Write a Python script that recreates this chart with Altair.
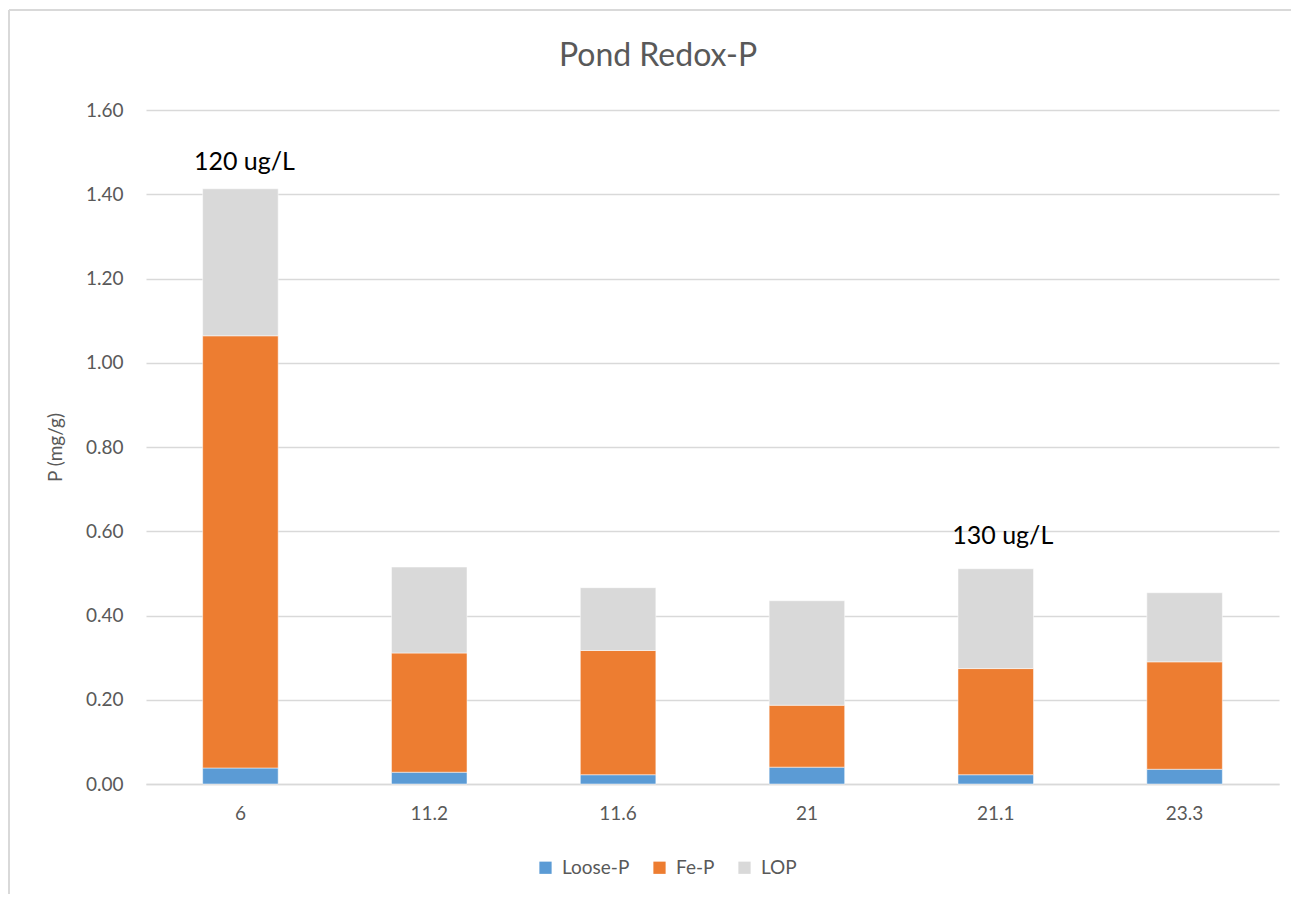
import altair as alt
import pandas as pd

categories = ["6", "11.2", "11.6", "21", "21.1", "23.3"]
loose_p = [0.038, 0.028, 0.022, 0.040, 0.022, 0.035]
fe_p = [1.026, 0.283, 0.295, 0.147, 0.252, 0.255]
lop = [0.349, 0.204, 0.149, 0.248, 0.237, 0.164]
series = ["Loose-P", "Fe-P", "LOP"]
colors = ["#5b9bd5", "#ed7d31", "#d9d9d9"]

chart_title = "Pond Redox-P"
ann_cats = ["6", "21.1"]
ann_labels = ["120 ug/L", "130 ug/L"]

rows = []
for i, c in enumerate(categories):
    for k, (s, vals) in enumerate(zip(series, [loose_p, fe_p, lop])):
        rows.append({"cat": c, "series": s, "value": vals[i], "order": k})
df = pd.DataFrame(rows)

totals = {c: loose_p[i] + fe_p[i] + lop[i] for i, c in enumerate(categories)}
ann = pd.DataFrame({"cat": ann_cats, "total": [totals[c] for c in ann_cats], "label": ann_labels})

FONT = "Lato"
GRAY = "#595959"

x_enc = alt.X("cat:N", sort=categories, title=None,
              scale=alt.Scale(paddingInner=0.6, paddingOuter=0.3),
              axis=alt.Axis(labelAngle=0, ticks=False, domainColor="#d9d9d9", domainWidth=1.5,
                            labelColor=GRAY, labelFontSize=19, labelFont=FONT, labelPadding=20))

bars = alt.Chart(df).mark_bar(stroke="white", strokeWidth=0.5).encode(
    x=x_enc,
    y=alt.Y("sum(value):Q", title="P (mg/g)",
            scale=alt.Scale(domain=[0, 1.6], nice=False),
            axis=alt.Axis(values=[0, 0.2, 0.4, 0.6, 0.8, 1.0, 1.2, 1.4, 1.6], format=".2f",
                          ticks=False, domain=False, gridColor="#d9d9d9", gridWidth=1.5,
                          labelColor=GRAY, labelFontSize=19, labelFont=FONT, labelPadding=23,
                          titleColor=GRAY, titleFontSize=19, titleFont=FONT, titleFontWeight="normal",
                          titlePadding=20)),
    color=alt.Color("series:N", sort=series,
                    scale=alt.Scale(domain=series, range=colors),
                    legend=alt.Legend(title=None, orient="none", direction="horizontal",
                                      legendX=390, legendY=748, symbolType="square",
                                      symbolSize=150, symbolStrokeWidth=0,
                                      labelFontSize=19, labelFont=FONT, labelColor=GRAY,
                                      columnPadding=20, labelOffset=7)),
    order=alt.Order("order:Q", sort="ascending"),
)

ann1 = ann[ann["cat"] == ann_cats[0]]
ann2 = ann[ann["cat"] == ann_cats[1]]

label1 = alt.Chart(ann1).mark_text(fontSize=25, font=FONT, color="black", dy=-19, dx=4,
                                   baseline="alphabetic").encode(
    x=alt.X("cat:N", sort=categories), y=alt.Y("total:Q"), text="label:N")
label2 = alt.Chart(ann2).mark_text(fontSize=25, font=FONT, color="black", dy=-25, dx=7,
                                   baseline="alphabetic").encode(
    x=alt.X("cat:N", sort=categories), y=alt.Y("total:Q"), text="label:N")

frame_df = pd.DataFrame({"k": [0]})
title_df = pd.DataFrame({"t": [chart_title]})

title_text = alt.Chart(title_df).mark_text(fontSize=32, font=FONT, color=GRAY, align="center",
                                           baseline="alphabetic").encode(
    x=alt.value(512), y=alt.value(-44), text="t:N")

top_line = alt.Chart(frame_df).mark_rule(color="#d9d9d9", strokeWidth=2).encode(
    x=alt.value(-137), x2=alt.value(1160), y=alt.value(-100))
left_line = alt.Chart(frame_df).mark_rule(color="#d9d9d9", strokeWidth=2).encode(
    x=alt.value(-137), y=alt.value(-100), y2=alt.value(800))

chart = alt.layer(bars, label1, label2, title_text, top_line, left_line).properties(
    width=1133,
    height=674,
    autosize=alt.AutoSizeParams(type="none"),
    padding={"left": 138, "top": 102, "right": 12, "bottom": 110},
).configure(background="white").configure_view(strokeWidth=0)

chart.save("out.html", embed_options={"renderer": "svg", "actions": False})
